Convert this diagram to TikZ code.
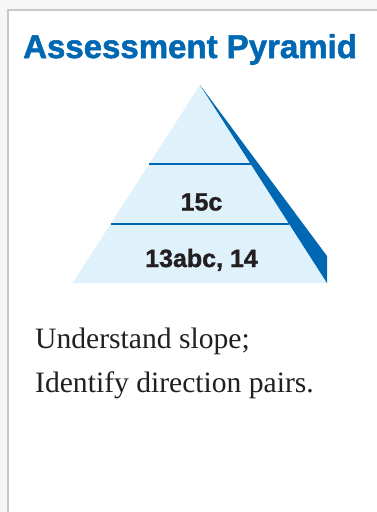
\documentclass[tikz,border=0pt]{standalone}
\usepackage{fontspec}
\setmainfont{Liberation Serif}
\newfontfamily\headfont[FakeBold=1.6]{Liberation Sans Bold}
\newfontfamily\levelfont[FakeBold=1.2]{Liberation Sans Bold}
\definecolor{pyrblue}{HTML}{0068B3}
\definecolor{pyrlight}{HTML}{DFF1FA}
\definecolor{framegray}{HTML}{C8C8C8}
\definecolor{outgray}{HTML}{F6F6F6}
\definecolor{inkdark}{HTML}{231F20}
\begin{document}
\begin{tikzpicture}[x=1pt,y=-1pt,
  title/.style={font=\headfont\fontsize{33}{36}\selectfont, text=pyrblue, anchor=base west, inner sep=0pt},
  level/.style={font=\levelfont\fontsize{25}{28}\selectfont, text=inkdark, anchor=base, inner sep=0pt},
  body/.style={font=\fontsize{29.6}{32}\selectfont, text=inkdark, anchor=base west, inner sep=0pt},
  divider/.style={draw=pyrblue, line width=2pt}]
\useasboundingbox (0,0) rectangle (377,512);
\fill[outgray] (0,0) rectangle (377,512);
\fill[white] (8,10) rectangle (377,512);
\draw[framegray, line width=1.2pt] (8,512) -- (8,10) -- (377,10);
\node[title] (t) at (23,58) {Assessment Pyramid};
% pyramid
\coordinate (apex) at (200,85);
\coordinate (bl) at (72.7,283);
\coordinate (br) at (327,283);
\coordinate (bandtop) at (327,256);
\fill[pyrlight] (apex) -- (bl) -- (br) -- cycle;
\fill[pyrblue] (apex) -- (bandtop) -- (br) -- cycle;
\coordinate (d1l) at (149.2,164);
\coordinate (d1r) at (250.7,164);
\coordinate (d2l) at (110.6,224);
\coordinate (d2r) at (289.2,224);
\draw[divider] (d1l) -- (d1r);
\draw[divider] (d2l) -- (d2r);
\node[level] (l2) at (201.5,210.5) {15c};
\node[level] (l3) at (201.5,267) {13abc, 14};
\node[body] (b1) at (35,348) {Understand slope;};
\node[body] (b2) at (35,392) {Identify direction pairs.};
\end{tikzpicture}
\end{document}
